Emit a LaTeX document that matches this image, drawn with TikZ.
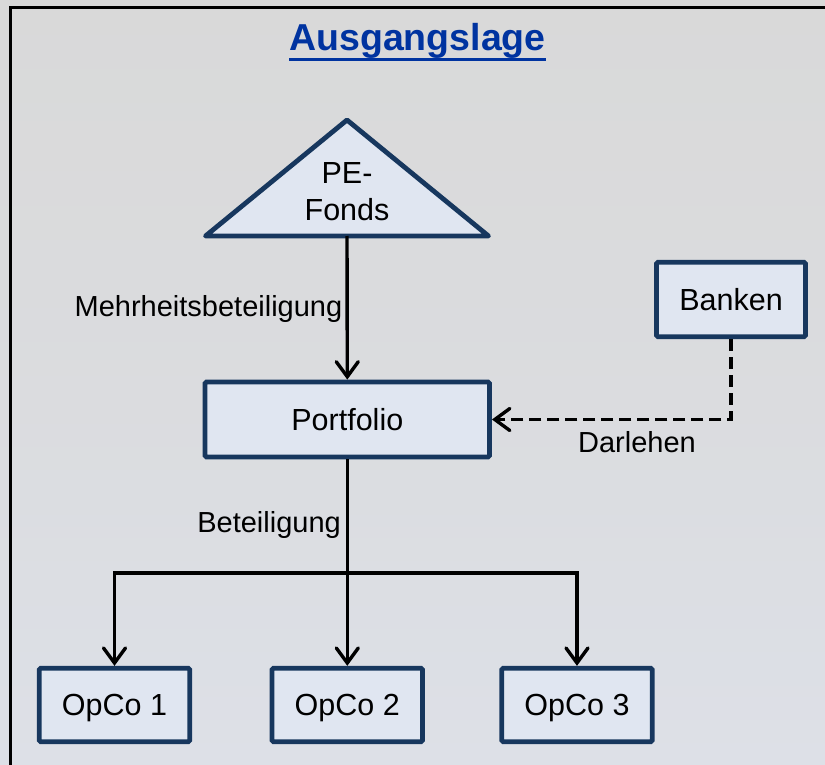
\documentclass[tikz,border=0pt]{standalone}
\usepackage{fontspec}
\setmainfont{Liberation Sans}
\usetikzlibrary{arrows.meta}
\definecolor{bgtop}{RGB}{217,217,217}
\definecolor{bgbot}{RGB}{221,224,231}
\definecolor{boxfill}{RGB}{224,230,241}
\definecolor{boxline}{RGB}{23,55,94}
\definecolor{titleblue}{RGB}{0,51,160}
\tikzset{
  entity/.style={draw=boxline, fill=boxfill, line width=4.8pt, rounded corners=1.5pt,
    font=\fontsize{30.5}{36.7}\selectfont, text height=21.8pt, text depth=0pt, inner sep=0pt},
  edgelabel/.style={font=\fontsize{29}{34}\selectfont, inner sep=0pt},
  arr/.style={line width=3.4pt, -{Straight Barb[length=15pt,width=22pt,line cap=round]}},
  dasharr/.style={arr, dash pattern=on 12pt off 6pt},
}
\begin{document}
\begin{tikzpicture}[x=1pt,y=-1pt]
\useasboundingbox (0,0) rectangle (825,765);
\shade[top color=bgtop, bottom color=bgbot, middle color=bgtop!60!bgbot] (0,0) rectangle (825,765);
\begin{scope}
  \clip (0,0) rectangle (825,765);
  \draw[line width=3pt] (10.7,7.5) rectangle (850,790);
\end{scope}

% title
\node[font=\bfseries\fontsize{37.5}{40}\selectfont, text=titleblue, anchor=base, inner sep=0pt] (title) at (417.5,51) {Ausgangslage};
\draw[titleblue, line width=3.5pt] (title.base west |- 0,59.5) -- (title.base east |- 0,59.5);

% PE-Fonds triangle
\coordinate (apex) at (347,120);
\coordinate (bl) at (205.5,236);
\coordinate (br) at (488.5,236);
\coordinate (pebase) at (347,236);
\draw[draw=boxline, fill=boxfill, line width=4.8pt, line join=round] (apex) -- (br) -- (bl) -- cycle;
\node[font=\fontsize{30.5}{36.7}\selectfont, align=center, anchor=base, inner sep=0pt] (pe) at (347,220) {PE-\\Fonds};

% boxes
\node[entity, minimum width=284.5pt, minimum height=75pt] (portfolio) at (347.3,419.5) {Portfolio};
\node[entity, minimum width=149pt, minimum height=74.5pt] (banken) at (731,299.5) {Banken};
\node[entity, minimum width=150.5pt, minimum height=73.5pt] (opco1) at (114.5,705) {OpCo 1};
\node[entity, minimum width=150.5pt, minimum height=73.5pt] (opco2) at (347.3,705) {OpCo 2};
\node[entity, minimum width=150.5pt, minimum height=73.5pt] (opco3) at (577,705) {OpCo 3};

% connectors
\draw[arr] (pebase) -- (portfolio.north);
\node[edgelabel, anchor=base east] (lblmehr) at (342.5,316) {Mehrheitsbeteiligung};

\draw[dasharr] (banken.south) |- (portfolio.east);
\node[edgelabel, anchor=base] (lbldarl) at (637,452) {Darlehen};

\coordinate (split) at (347.3,573);
\draw[arr] (portfolio.south) -- (opco2.north);
\draw[arr] (split) -| (opco1.north);
\draw[arr] (split) -| (opco3.north);
\node[edgelabel, anchor=base east] (lblbet) at (341,532) {Beteiligung};
\end{tikzpicture}
\end{document}
